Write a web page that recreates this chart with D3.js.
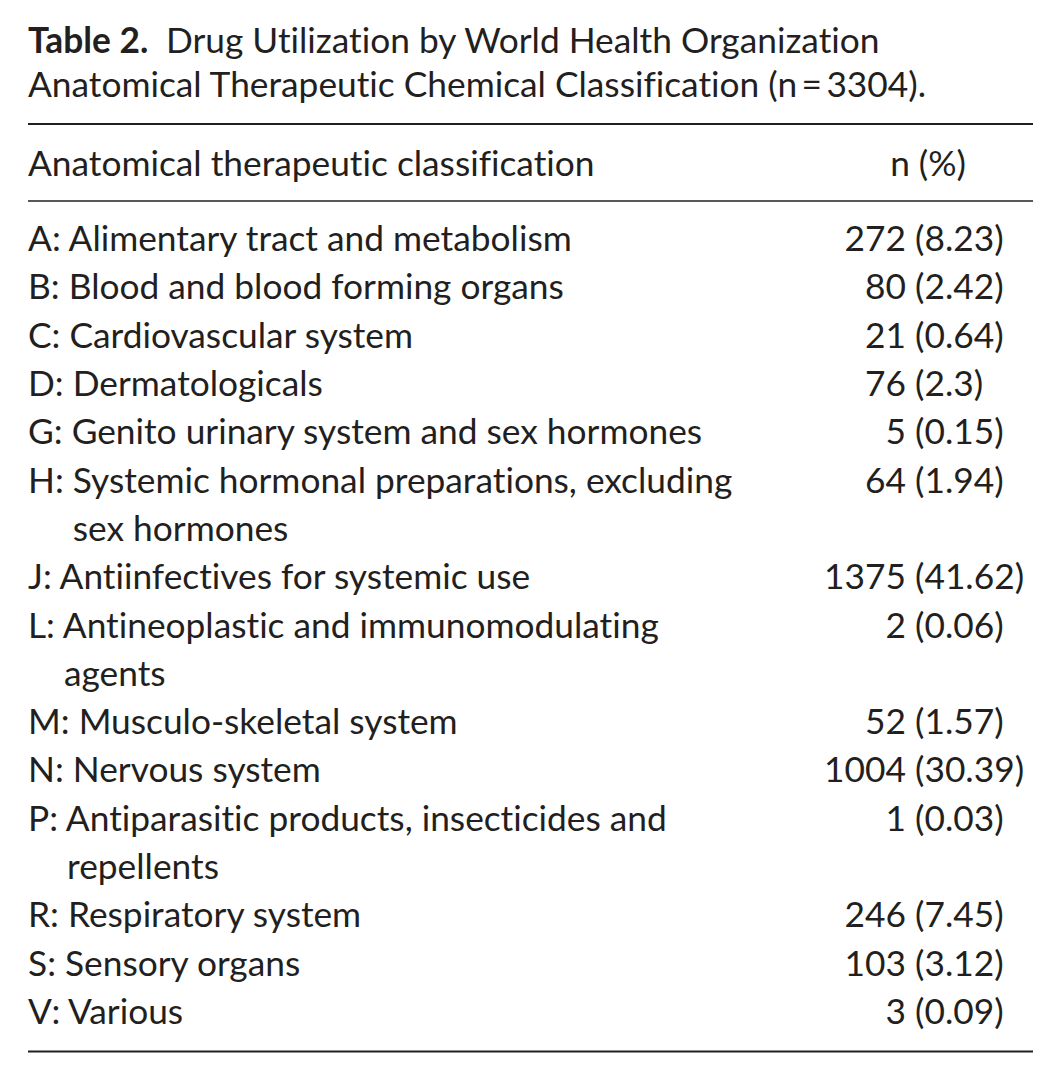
<!DOCTYPE html>
<html>
<head>
<meta charset="utf-8">
<script src="https://cdn.jsdelivr.net/npm/d3@7"></script>
<style>
  body { margin: 0; background: #fff; }
  text { font-family: Lato, "Open Sans", sans-serif; fill: #231f20; font-variant-ligatures: none; }
</style>
</head>
<body>
<div id="mydiv"></div>
<script>
// table contents
const titleBold = 'Table 2.'
const titleLines = ['Drug Utilization by World Health Organization',
                    'Anatomical Therapeutic Chemical Classification (n\u2009=\u20093304).']
const headers = ['Anatomical therapeutic classification', 'n (%)']

const codes = ['A', 'B', 'C', 'D', 'G', 'H', 'J', 'L', 'M', 'N', 'P', 'R', 'S', 'V']
const labels = [
  ['Alimentary tract and metabolism'],
  ['Blood and blood forming organs'],
  ['Cardiovascular system'],
  ['Dermatologicals'],
  ['Genito urinary system and sex hormones'],
  ['Systemic hormonal preparations, excluding', 'sex hormones'],
  ['Antiinfectives for systemic use'],
  ['Antineoplastic and immunomodulating', 'agents'],
  ['Musculo-skeletal system'],
  ['Nervous system'],
  ['Antiparasitic products, insecticides and', 'repellents'],
  ['Respiratory system'],
  ['Sensory organs'],
  ['Various']
]
const counts = [272, 80, 21, 76, 5, 64, 1375, 2, 52, 1004, 1, 246, 103, 3]
const percents = ['8.23', '2.42', '0.64', '2.3', '0.15', '1.94', '41.62', '0.06',
                  '1.57', '30.39', '0.03', '7.45', '3.12', '0.09']

const W = 1060, H = 1078
const left = 28, right = 1033
const xParen = 915   // values line up on the opening bracket

const svg = d3.select('#mydiv')
  .append('svg')
  .attr('width', W)
  .attr('height', H)

// fit the font size to the width of the first row in the reference
const probe = svg.append('text').style('font-size', '30px').text('A: ' + labels[0][0])
const fs = 30 * 544 / probe.node().getComputedTextLength()
probe.remove()

// rows: which line each row starts on
let li = 0
const rows = codes.map((c, i) => {
  const r = {code: c, lines: labels[i], count: counts[i], pct: percents[i], line: li}
  li += labels[i].length
  return r
})

const y = d3.scaleLinear()
  .domain([0, li - 1])
  .range([251, 1024])

// title
const t1 = svg.append('text')
  .attr('x', left).attr('y', 53)
  .style('font-size', fs + 'px')
t1.append('tspan').style('font-weight', 'bold').text(titleBold)
t1.append('tspan').text('\u2002' + titleLines[0])
svg.append('text')
  .attr('x', left).attr('y', 97)
  .style('font-size', fs + 'px')
  .text(titleLines[1])

// rules
const rules = [{y: 124, w: 2}, {y: 201, w: 1.6}, {y: 1051.5, w: 2}]
svg.selectAll('.rule')
  .data(rules).enter()
  .append('line')
  .attr('class', 'rule')
  .attr('x1', left).attr('x2', right)
  .attr('y1', d => d.y).attr('y2', d => d.y)
  .style('stroke', '#231f20')
  .style('stroke-width', d => d.w)

// header
svg.append('text')
  .attr('x', left).attr('y', 176)
  .style('font-size', fs + 'px')
  .text(headers[0])
svg.append('text')
  .attr('x', 966).attr('y', 176)
  .attr('text-anchor', 'end')
  .style('font-size', fs + 'px')
  .text(headers[1])

// body
const g = svg.append('g').style('font-size', fs + 'px')

const rg = g.selectAll('.row')
  .data(rows).enter()
  .append('g')
  .attr('class', 'row')

rg.each(function (d) {
  const sel = d3.select(this)
  sel.append('text')
    .attr('x', left).attr('y', y(d.line))
    .text(d.code + ': ' + d.lines[0])
  // hanging indent for wrapped lines
  const pre = sel.append('text').attr('x', left).attr('y', -100).text(d.code + ':\u00a0')
  const indent = pre.node().getComputedTextLength()
  pre.remove()
  d.lines.slice(1).forEach((l, k) => {
    sel.append('text')
      .attr('x', left + indent).attr('y', y(d.line + k + 1))
      .text(l)
  })
  // value column
  sel.append('text')
    .attr('x', xParen).attr('y', y(d.line))
    .attr('text-anchor', 'end')
    .text(d.count + '\u00a0')
  sel.append('text')
    .attr('x', xParen).attr('y', y(d.line))
    .text('(' + d.pct + ')')
})
</script>
</body>
</html>
